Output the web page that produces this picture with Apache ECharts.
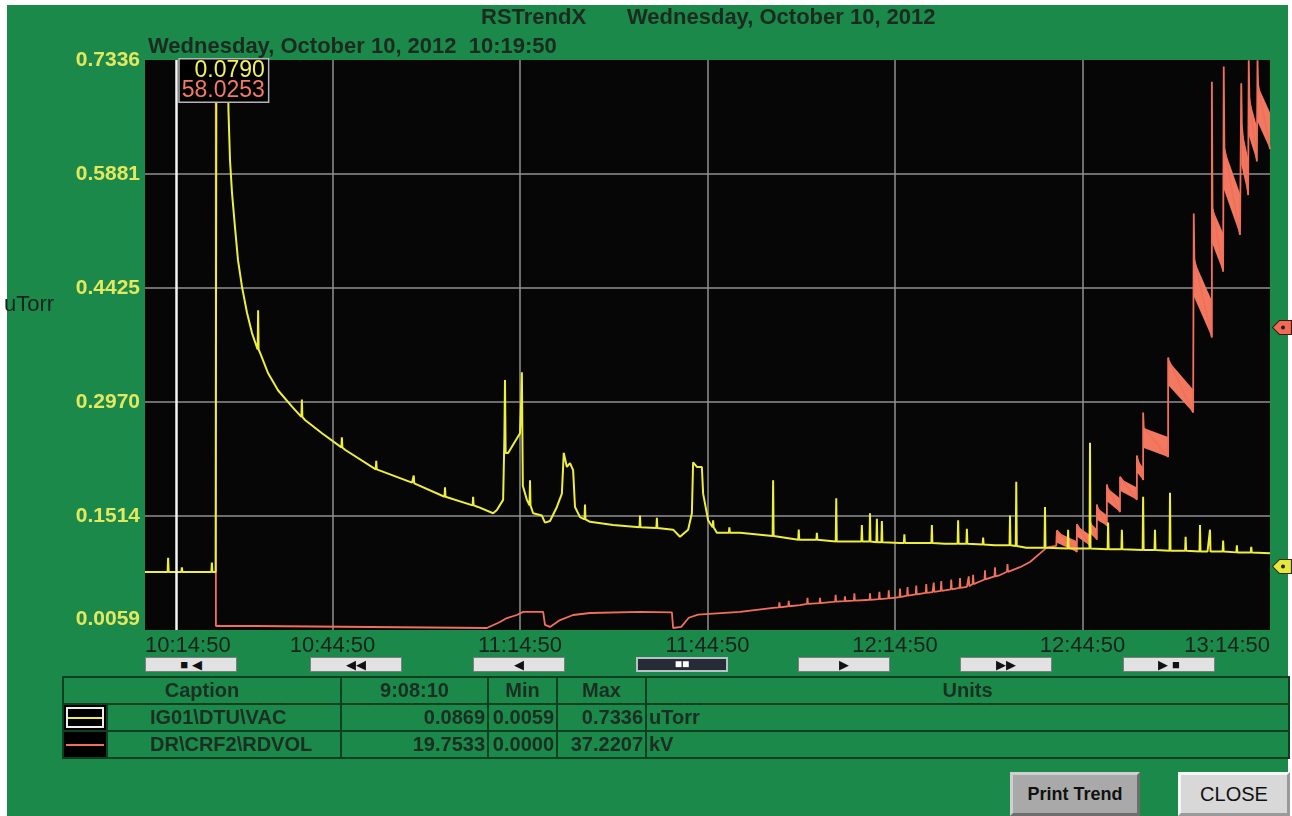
<!DOCTYPE html>
<html>
<head>
<meta charset="utf-8">
<title>RSTrendX</title>
<script src="https://cdn.jsdelivr.net/npm/echarts@6/dist/echarts.min.js"></script>
<style>
    body { margin: 0; background: #fff; font-family: 'Liberation Sans', Arial, sans-serif; }
    #frame { position: absolute; left: 7px; top: 5px; width: 1281px; height: 811px; background: #1a894a; }
    #main { position: absolute; left: 0; top: 0; width: 1292px; height: 816px; }
    .nav { position: absolute; top: 657px; width: 92px; height: 15px; box-sizing: border-box;
           background: #e2e2e2; border: 1px solid #7d7d7d; font-size: 13px; line-height: 13px;
           text-align: center; color: #111; letter-spacing: 0; }
    .nav.on { background: #262b36; color: #fff; border: 2px solid #b8c0c8; line-height: 11px; font-size: 12px; }
    #trend { position: absolute; left: 62px; top: 676px; width: 1226px; border-collapse: collapse;
             table-layout: fixed; font-size: 20px; font-weight: bold; color: #1b2e21; }
    #trend td { border: 2px solid #0d3f20; padding: 0 2px; height: 25px; white-space: nowrap; overflow: hidden; }
    #trend td.c { text-align: center; }
    #trend td.r { text-align: right; }
    #trend td.cap { padding-left: 42px; }
    #trend td.sw { background: #000; padding: 0; position: relative; }
    .sw div { position: absolute; left: 2px; right: 2px; top: 2px; bottom: 2px; }
    .sw i { position: absolute; left: 0; right: 0; top: 50%; height: 2px; margin-top: -1px; }
    .btn { position: absolute; top: 772px; height: 44px; box-sizing: border-box; text-align: center; color: #111; }
    #print { left: 1010px; width: 130px; background: #a9a9a9; border: 3px solid; border-color: #cfcfcf #6e6e6e #6e6e6e #cfcfcf;
             font-weight: bold; font-size: 18px; line-height: 38px; }
    #close { left: 1178px; width: 112px; background: #d8d8d8; border: 3px solid; border-color: #f6f6f6 #9a9a9a #9a9a9a #f6f6f6;
             font-size: 20px; line-height: 38px; }
</style>
</head>
<body>
<div id="frame"></div>
<div id="main"></div>
<div id="navs"></div>
<table id="trend"></table>
<div class="btn" id="print">Print Trend</div>
<div class="btn" id="close">CLOSE</div>

<script type="text/javascript">
// trend start 10:14:50, x values are minutes from start
var startTime = [10, 14, 50];
var dateText = 'Wednesday, October 10, 2012';
var cursorMinute = 5;
var cursorValues = ['0.0790', '58.0253'];

// IG01\DTU\VAC (uTorr)
var vacTime = [0, 11.3, 11.45, 13.1, 13.35, 13.6, 13.92, 14.4, 14.88, 15.52,
    16.32, 17.12, 18.4, 19.68, 21.28, 23.52, 25.6, 28.32, 32.0, 37.28,
    42.72, 48.0, 53.28, 55.7, 56.3,
    57.3, 57.5, 57.6, 57.7, 58.1, 59.4, 60.0, 60.2, 60.3, 60.45,
    61.1, 62.1, 63.5, 64.0, 64.8, 65.9, 66.7, 67.0, 67.5, 68.0,
    68.5, 68.8, 69.6, 71.2, 74.9, 79.2, 84.5, 85.6, 86.9, 87.5,
    87.7, 88.3, 89.1, 89.3, 90.1, 91.5, 95.2, 104.8, 112.0, 120.8,
    128.0, 136.0, 141.0, 150.0, 160.0, 170.0, 180.0];
var vacValue = [0.080, 0.080, 0.90, 0.90, 0.670, 0.606, 0.564, 0.520, 0.478, 0.444,
    0.411, 0.385, 0.360, 0.334, 0.312, 0.291, 0.274, 0.257, 0.236, 0.210,
    0.194, 0.176, 0.163, 0.155, 0.159,
    0.172, 0.250, 0.325, 0.232, 0.232, 0.249, 0.257, 0.300, 0.335, 0.190,
    0.172, 0.155, 0.152, 0.143, 0.145, 0.163, 0.180, 0.232, 0.214, 0.219,
    0.210, 0.163, 0.150, 0.144, 0.140, 0.137, 0.134, 0.125, 0.134, 0.155,
    0.220, 0.214, 0.214, 0.180, 0.146, 0.130, 0.130, 0.121, 0.119, 0.117,
    0.116, 0.114, 0.111, 0.110, 0.108, 0.106, 0.104];
// [minute, base, peak]
var vacSpikes = [[3.7, 0.080, 0.098], [5.9, 0.080, 0.086], [10.7, 0.080, 0.092],
    [18.1, 0.364, 0.414], [25.1, 0.278, 0.300], [31.5, 0.239, 0.252], [37.0, 0.211, 0.222],
    [43.0, 0.193, 0.203], [48.0, 0.176, 0.188], [52.5, 0.165, 0.176], [61.6, 0.165, 0.197],
    [70.4, 0.147, 0.166], [79.2, 0.137, 0.152], [81.9, 0.136, 0.149], [90.9, 0.137, 0.146],
    [93.5, 0.130, 0.137], [100.5, 0.126, 0.197], [104.6, 0.121, 0.134], [107.5, 0.121, 0.130],
    [110.6, 0.119, 0.174], [114.7, 0.119, 0.140], [116.0, 0.119, 0.155], [117.1, 0.118, 0.148],
    [117.9, 0.118, 0.145], [121.5, 0.117, 0.128], [125.9, 0.117, 0.140], [130.1, 0.116, 0.146],
    [131.5, 0.116, 0.135], [134.1, 0.115, 0.124], [138.4, 0.114, 0.152], [139.4, 0.113, 0.195],
    [144.0, 0.111, 0.163], [147.7, 0.110, 0.134], [151.2, 0.110, 0.245], [154.1, 0.109, 0.143],
    [156.3, 0.109, 0.134], [159.7, 0.108, 0.176], [161.6, 0.108, 0.134], [164.0, 0.107, 0.181],
    [166.5, 0.107, 0.125], [168.8, 0.106, 0.140], [170.4, 0.106, 0.134], [172.5, 0.106, 0.120],
    [174.7, 0.105, 0.114], [177.0, 0.105, 0.112]];

// DR\CRF2\RDVOL (kV)
var rdTime = [0, 11.3, 11.35, 17.6, 17.8, 54.7, 56.8, 57.9, 59.5, 60.5,
    63.7, 64.0, 64.8, 66.4, 68.5, 71.2, 79.2, 84.3, 84.5, 85.8,
    87.0, 88.5, 95.2, 100.5, 104.8, 110.0, 115.4, 120.8, 126.0, 131.5,
    136.8, 140.0, 141.6, 143.2, 144.3, 145.8];
var rdValue = [58.0253, 58.0253, 0.26, 0.26, 0.13, 0.13, 0.52, 0.78, 0.98, 1.18,
    1.18, 0.33, 0.20, 0.65, 0.98, 1.11, 1.18, 1.15, 0.13, 0.20,
    0.80, 1.00, 1.18, 1.44, 1.63, 1.83, 1.96, 2.15, 2.48, 2.81,
    3.59, 4.10, 4.44, 5.00, 5.40, 5.50];
var rdSpikes = [[101.5, 1.48, 1.8], [103.0, 1.55, 1.9], [106.0, 1.70, 2.1], [108.0, 1.76, 2.1],
    [110.5, 1.85, 2.3], [112.0, 1.88, 2.2], [113.5, 1.92, 2.4], [116.0, 1.97, 2.4],
    [117.5, 2.02, 2.5], [119.0, 2.07, 2.6], [120.8, 2.15, 2.7], [122.0, 2.24, 2.8],
    [123.4, 2.32, 2.9], [125.0, 2.42, 3.0], [126.2, 2.49, 3.1], [127.4, 2.56, 3.2],
    [129.0, 2.66, 3.3], [130.4, 2.75, 3.4], [131.8, 2.86, 3.5], [132.5, 3.00, 3.6],
    [134.4, 3.30, 3.9], [136.0, 3.50, 4.1], [138.0, 3.80, 4.3]];
// sawtooth steps: [start, end, peak, topStart, bottomStart, topEnd, bottomEnd]
var rdSteps = [[145.9, 149.1, 6.5, 6.4, 5.7, 5.8, 5.1],
    [149.1, 151.2, 6.9, 6.8, 6.1, 6.2, 5.5],
    [151.2, 152.3, 7.1, 7.0, 6.3, 6.6, 5.9],
    [152.3, 153.9, 8.2, 8.0, 7.2, 7.5, 6.8],
    [153.9, 156.0, 9.5, 9.3, 8.4, 8.6, 7.7],
    [156.0, 158.7, 10.0, 9.9, 9.1, 9.3, 8.5],
    [158.7, 159.7, 11.4, 11.2, 10.3, 10.6, 9.8],
    [159.7, 163.7, 14.2, 13.2, 11.9, 12.6, 11.3],
    [163.7, 167.7, 17.8, 17.6, 16.0, 15.7, 14.2],
    [167.8, 170.7, 27.2, 24.2, 21.8, 21.5, 19.1],
    [170.7, 172.5, 35.8, 27.6, 25.3, 25.9, 23.4],
    [172.6, 175.2, 36.8, 31.5, 28.8, 28.5, 25.8],
    [175.4, 176.5, 35.7, 32.9, 30.4, 30.8, 28.4],
    [176.6, 177.9, 37.2, 34.8, 32.3, 32.9, 30.6],
    [178.0, 180.0, 37.2, 35.6, 33.2, 33.8, 31.4]];

// legend table
var tableHeader = ['Caption', '9:08:10', 'Min', 'Max', 'Units'];
var tableCaption = ['IG01\\DTU\\VAC', 'DR\\CRF2\\RDVOL'];
var tableNow = ['0.0869', '19.7533'];
var tableMin = ['0.0059', '0.0000'];
var tableMax = ['0.7336', '37.2207'];
var tableUnits = ['uTorr', 'kV'];
var navLabels = ['\u25A0 \u25C0', '\u25C0\u25C0', '\u25C0', '\u25A0\u25A0', '\u25B6', '\u25B6\u25B6', '\u25B6 \u25A0'];

var YELLOW = '#eeee3c';
var RED = '#f0705a';

function pad(n) { return n < 10 ? '0' + n : '' + n; }
function clock(m) {
    var s = startTime[0] * 3600 + startTime[1] * 60 + startTime[2] + Math.round(m * 60);
    return Math.floor(s / 3600) + ':' + pad(Math.floor(s % 3600 / 60)) + ':' + pad(s % 60);
}
function withSpikes(times, values, spikes) {
    var pts = times.map(function (t, i) { return [t, values[i]]; });
    spikes.forEach(function (s) {
        pts.push([s[0] - 0.08, s[1]], [s[0], s[2]], [s[0] + 0.08, s[1]]);
    });
    pts.sort(function (a, b) { return a[0] - b[0]; });
    return pts;
}

var vacData = withSpikes(vacTime, vacValue, vacSpikes);
var rdData = withSpikes(rdTime, rdValue, rdSpikes);
rdSteps.forEach(function (s) {
    rdData.push([s[0], s[2]], [s[0] + 0.1, s[3]], [s[1], s[6]]);
});

var vacMin = parseFloat(tableMin[0]), vacMax = parseFloat(tableMax[0]);
var tagPath = 'path://M0,7 L7,0 L19,0 L19,14 L7,14 Z';
var titleStyle = { fontSize: 22, fontWeight: 'bold', color: '#1c2a20', fontFamily: 'Liberation Sans' };

var myChart = echarts.init(document.getElementById('main'));
var option = {
    animation: false,
    backgroundColor: 'transparent',
    textStyle: { fontFamily: 'Liberation Sans, Arial, sans-serif' },
    title: [
        { text: 'RSTrendX', left: 481, top: 7, padding: 0, textStyle: titleStyle },
        { text: dateText, left: 627, top: 7, padding: 0, textStyle: titleStyle },
        { text: dateText + '  ' + clock(cursorMinute), left: 148, top: 36, padding: 0, textStyle: titleStyle }
    ],
    graphic: [{
        type: 'text', left: 4, top: 294,
        style: { text: tableUnits[0], fontSize: 22, fill: '#17231b', fontFamily: 'Liberation Sans' }
    }],
    grid: { left: 145, top: 60, width: 1125, height: 570, show: true, backgroundColor: '#060606', borderWidth: 0 },
    xAxis: {
        type: 'value', min: 0, max: 180, interval: 30,
        axisLine: { show: false }, axisTick: { show: false },
        splitLine: { show: true, showMinLine: false, showMaxLine: false, lineStyle: { color: '#909090', width: 1.5 } },
        axisLabel: { margin: 5, fontSize: 22, color: '#17231b', formatter: clock, alignMinLabel: 'left', alignMaxLabel: 'right' }
    },
    yAxis: [{
        type: 'value', min: vacMin, max: vacMax, interval: (vacMax - vacMin) / 5,
        axisLine: { show: false }, axisTick: { show: false },
        splitLine: { show: true, showMinLine: false, showMaxLine: false, lineStyle: { color: '#909090', width: 1.5 } },
        axisLabel: {
            margin: 5, fontSize: 21, fontWeight: 'bold', color: '#e4e860',
            verticalAlignMinLabel: 'bottom',
            formatter: function (v) { return v.toFixed(4); }
        }
    }, {
        type: 'value', min: parseFloat(tableMin[1]), max: parseFloat(tableMax[1]), show: false
    }],
    series: [{
        name: 'band', type: 'custom', yAxisIndex: 1, clip: true, silent: true,
        encode: { x: [0, 1], y: [3, 4, 5, 6] },
        renderItem: function (params, api) {
            var pts = [
                api.coord([api.value(0), api.value(3)]),
                api.coord([api.value(1), api.value(5)]),
                api.coord([api.value(1), api.value(6)]),
                api.coord([api.value(0), api.value(4)])
            ];
            return { type: 'polygon', shape: { points: pts }, style: { fill: '#f37860' } };
        },
        data: rdSteps
    }, {
        name: tableCaption[1], type: 'line', yAxisIndex: 1, showSymbol: false, clip: true,
        lineStyle: { color: RED, width: 1.8 },
        data: rdData,
        markPoint: {
            silent: true, label: { show: false },
            data: [
                { coord: [180, parseFloat(tableNow[1])], symbol: tagPath, symbolSize: [19, 14], symbolOffset: [12, 0],
                  itemStyle: { color: '#f06a55', borderColor: '#3a1a10', borderWidth: 1 } },
                { coord: [180, parseFloat(tableNow[1])], symbol: 'circle', symbolSize: 4, symbolOffset: [13, 0],
                  itemStyle: { color: '#222' } }
            ]
        }
    }, {
        name: tableCaption[0], type: 'line', showSymbol: false, clip: true,
        lineStyle: { color: YELLOW, width: 2 },
        data: vacData,
        markLine: {
            silent: true, symbol: ['none', 'none'], label: { show: false },
            lineStyle: { color: '#f4f4f4', width: 2.5, type: 'solid' },
            data: [{ xAxis: cursorMinute }]
        },
        markPoint: {
            silent: true,
            data: [
                { coord: [cursorMinute, vacMax], symbol: 'rect', symbolSize: 1,
                  itemStyle: { color: 'rgba(0,0,0,0)' },
                  label: {
                      show: true, position: [4, 0],
                      formatter: function () { return '{y|' + cursorValues[0] + '}\n{r|' + cursorValues[1] + '}'; },
                      backgroundColor: '#000', borderColor: '#b4b4b4', borderWidth: 1.5, padding: [1, 3, 1, 2],
                      rich: {
                          y: { color: '#f2f25a', fontSize: 23, lineHeight: 20, align: 'right' },
                          r: { color: '#f27a66', fontSize: 23, lineHeight: 20 }
                      }
                  } },
                { coord: [180, parseFloat(tableNow[0])], symbol: tagPath, symbolSize: [19, 14], symbolOffset: [12, 0],
                  itemStyle: { color: '#e8e83a', borderColor: '#30300a', borderWidth: 1 }, label: { show: false } },
                { coord: [180, parseFloat(tableNow[0])], symbol: 'circle', symbolSize: 4, symbolOffset: [13, 0],
                  itemStyle: { color: '#222' }, label: { show: false } }
            ]
        }
    }]
};
myChart.setOption(option);

// navigation buttons under the time axis
var navLeft = [145, 310, 473, 636, 798, 960, 1123];
var navHtml = '';
navLabels.forEach(function (s, i) {
    navHtml += '<div class="nav' + (i === 3 ? ' on' : '') + '" style="left:' + navLeft[i] + 'px">' + s + '</div>';
});
document.getElementById('navs').innerHTML = navHtml;

// legend table
var colW = [44, 234, 147, 69, 89, 643];
var html = '<colgroup>' + colW.map(function (w) { return '<col style="width:' + w + 'px">'; }).join('') + '</colgroup>';
html += '<tr><td colspan="2" class="c">' + tableHeader[0] + '</td><td class="c">' + tableHeader[1] +
    '</td><td class="c">' + tableHeader[2] + '</td><td class="c">' + tableHeader[3] + '</td><td class="c">' + tableHeader[4] + '</td></tr>';
var swatch = [
    '<div style="border:2px solid #eee"><i style="background:' + YELLOW + '"></i></div>',
    '<div><i style="background:' + RED + '"></i></div>'
];
for (var i = 0; i < tableCaption.length; i++) {
    html += '<tr><td class="sw">' + swatch[i] + '</td><td class="cap">' + tableCaption[i] + '</td>' +
        '<td class="r">' + tableNow[i] + '</td><td class="r">' + tableMin[i] + '</td><td class="r">' + tableMax[i] +
        '</td><td>' + tableUnits[i] + '</td></tr>';
}
document.getElementById('trend').innerHTML = html;
</script>
</body>
</html>
